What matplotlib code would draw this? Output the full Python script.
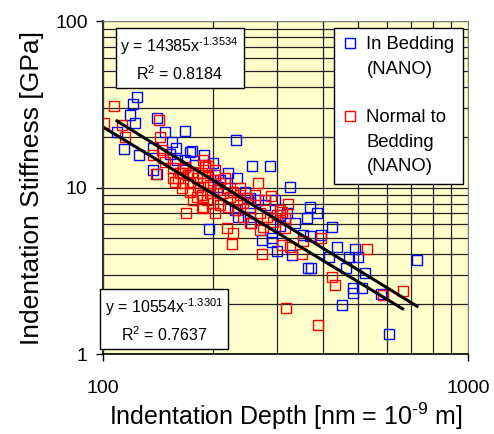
import matplotlib
matplotlib.use("Agg")
import matplotlib.pyplot as plt
from matplotlib.lines import Line2D
from matplotlib.ticker import LogLocator, NullFormatter
import numpy as np

plt.rcParams['font.family'] = ['Liberation Sans', 'DejaVu Sans']
plt.rcParams['mathtext.fontset'] = 'custom'
plt.rcParams['mathtext.rm'] = 'Liberation Sans'
plt.rcParams['mathtext.it'] = 'Liberation Sans:italic'
plt.rcParams['mathtext.bf'] = 'Liberation Sans:bold'

# in bedding (blue)
blue_x = [124, 120.8, 118.6, 122.4, 109.2, 140.6, 147.9, 167.8, 231.5, 114.2,
          125.5, 137.0, 154.5, 158.5, 175.3, 189.2, 200, 256, 287, 233,
          220.5, 137, 140.6, 325, 245, 253, 266, 195, 306, 336,
          369, 386, 362, 424, 354, 369, 396, 438, 490, 416,
          472, 499, 463, 522, 725, 371, 483, 483, 512, 578,
          452, 606, 272, 291, 300, 329, 365, 173.2, 209.3, 207.1,
          253, 319, 255, 253, 235, 230, 291, 306, 159.5, 152.6,
          167.8, 178.7, 202.8, 216, 278, 296]
blue_y = [35.0, 31.7, 27.3, 24.4, 21.5, 26.1, 21.5, 21.8, 19.3, 17.0,
          15.7, 17.3, 18.8, 17.3, 16.6, 15.7, 14.0, 13.5, 13.5, 11.4,
          12.2, 12.7, 12.0, 10.1, 9.4, 8.65, 8.4, 5.6, 6.8, 6.1,
          7.6, 7.0, 6.6, 5.8, 5.2, 5.1, 5.2, 4.4, 4.3, 3.8,
          3.8, 3.8, 3.3, 3.07, 3.67, 3.29, 2.49, 2.33, 2.49, 2.29,
          1.97, 1.32, 4.84, 4.70, 4.15, 3.93, 3.29, 16.3, 11.1, 10.1,
          8.07, 7.0, 6.1, 6.65, 6.65, 7.33, 5.0, 5.9, 14.6, 16.0,
          14.6, 13.65, 11.9, 10.6, 7.85, 8.4]

# normal to bedding (red)
red_x = [107.2, 100.6, 112.7, 114.9, 142.4, 143.3, 137, 146, 139.7, 155.5,
         165.6, 147.9, 145, 164.5, 190.4, 266, 289, 321, 306, 218.6,
         227, 253, 315, 186.7, 169, 186.7, 226, 272, 317, 351,
         309, 325, 354, 396, 529, 424, 432, 662, 584, 388,
         269, 309, 315,
         155.5, 162.6, 167.8, 170.9, 176.5, 165.6, 173.2, 180.9, 186.7, 182.2,
         188.1, 192.8, 196.5, 200.4, 205.3, 209.3, 213.4, 219, 223, 227,
         233, 237.5, 242, 248, 253, 186.7, 192.8, 200.4, 209.3, 220.5,
         233, 196.5, 173.2, 180.9, 164.5, 157.5, 160.5, 269, 281, 292,
         299, 274, 176.5, 188.1, 202.8, 242, 190.4, 202.8, 216, 237.5,
         261, 278, 188.1, 193.5]
red_y = [30.9, 24.4, 23.7, 20.1, 25.4, 20.1, 15.7, 15.0, 12.0, 11.4,
         13.0, 14.2, 16.8, 12.2, 13.3, 10.6, 8.9, 8.0, 7.3, 5.7,
         5.3, 6.1, 6.6, 9.0, 7.0, 7.6, 4.6, 4.0, 1.89, 4.0,
         4.5, 4.4, 4.8, 5.0, 4.27, 2.9, 2.6, 2.4, 2.26, 1.49,
         5.56, 7.1, 5.7,
         13.1, 12.2, 13.3, 11.9, 12.4, 10.6, 10.6, 11.4, 12.2, 10.1,
         10.6, 11.6, 10.35, 11.1, 9.7, 10.6, 9.3, 9.9, 8.8, 9.4,
         8.4, 9.0, 8.1, 8.65, 7.5, 9.0, 8.4, 8.1, 7.85, 7.6,
         7.3, 9.3, 9.4, 8.8, 9.9, 10.8, 11.4, 7.0, 6.65, 6.2,
         6.8, 5.8, 8.4, 7.5, 7.0, 6.65, 13.6, 12.7, 11.4, 9.9,
         9.0, 8.4, 14.6, 13.5]

# power-law trendlines y = a * x^b
blue_fit = (14385, -1.3534, 0.8184)
red_fit = (10554, -1.3301, 0.7637)

legend_labels = ["In Bedding", "(NANO)", " ", "Normal to", "Bedding", "(NANO)"]

fig = plt.figure(figsize=(4.94, 4.34), dpi=100)
ax = fig.add_axes([0.2085, 0.1843, 0.7389, 0.7673])
ax.set_facecolor("#FFFFCC")

ax.plot(blue_x, blue_y, linestyle="none", marker="s", ms=7.5, mew=1.0,
        mfc="none", mec="#0000FF")
ax.plot(red_x, red_y, linestyle="none", marker="s", ms=7.5, mew=1.0,
        mfc="none", mec="#FF0000")

for xs, (a, b, r2) in [(blue_x, blue_fit), (red_x, red_fit)]:
    xx = np.geomspace(min(xs), max(xs), 50)
    ax.plot(xx, a * xx ** b, color="black", lw=2.2)

ax.set_xscale("log")
ax.set_yscale("log")
ax.set_xlim(100, 1000)
ax.set_ylim(1, 100)
ax.set_xticks([100, 1000])
ax.set_xticklabels(["100", "1000"])
ax.set_yticks([1, 10, 100])
ax.set_yticklabels(["1", "10", "100"])
ax.xaxis.set_minor_locator(LogLocator(base=10, subs=np.arange(2, 10)))
ax.yaxis.set_minor_locator(LogLocator(base=10, subs=np.arange(2, 10)))
ax.xaxis.set_minor_formatter(NullFormatter())
ax.yaxis.set_minor_formatter(NullFormatter())
ax.grid(True, which="both", color="#222222", lw=0.9)
ax.set_axisbelow(True)
ax.tick_params(which="major", direction="out", length=5, width=1, labelsize=14)
ax.tick_params(axis="x", which="major", pad=14)
ax.tick_params(axis="y", which="major", pad=6)
ax.tick_params(which="minor", length=0)

ax.spines["top"].set_color("#808080")
ax.spines["right"].set_color("#808080")
ax.spines["left"].set_color("#333333")
ax.spines["left"].set_linewidth(1.5)
ax.spines["bottom"].set_linewidth(1.2)

ax.set_xlabel(r"Indentation Depth [nm = 10$^{\text{-9}}$ m]", fontsize=18, labelpad=2)
ax.set_ylabel("Indentation Stiffness [GPa]", fontsize=19, labelpad=8)

# equation boxes
box = dict(boxstyle="square,pad=0.3", fc="white", ec="black", lw=1)
eq = "y = %dx$^{\\text{%.4f}}$\nR$^2$ = %.4f"
ax.text(0.21, 0.886, eq % blue_fit,
        transform=ax.transAxes, ha="center", va="center", fontsize=11.5,
        linespacing=1.5, bbox=box, zorder=5)
ax.text(0.167, 0.102, eq % red_fit,
        transform=ax.transAxes, ha="center", va="center", fontsize=11.5,
        linespacing=1.5, bbox=box, zorder=5)

# legend
handles = [Line2D([], [], ls="none", marker="s", ms=7.5, mfc="none", mec="#0000FF"),
           Line2D([], [], ls="none"),
           Line2D([], [], ls="none"),
           Line2D([], [], ls="none", marker="s", ms=7.5, mfc="none", mec="#FF0000"),
           Line2D([], [], ls="none"),
           Line2D([], [], ls="none")]
leg = ax.legend(handles, legend_labels, loc="upper right",
                bbox_to_anchor=(0.986, 0.979), borderaxespad=0,
                fontsize=13.3, labelspacing=0.4, handlelength=0.8,
                handletextpad=0.5, borderpad=0.45, fancybox=False,
                framealpha=1, edgecolor="black")
leg.get_frame().set_linewidth(1)
leg.set_zorder(6)

plt.savefig("out.png", dpi=100)
